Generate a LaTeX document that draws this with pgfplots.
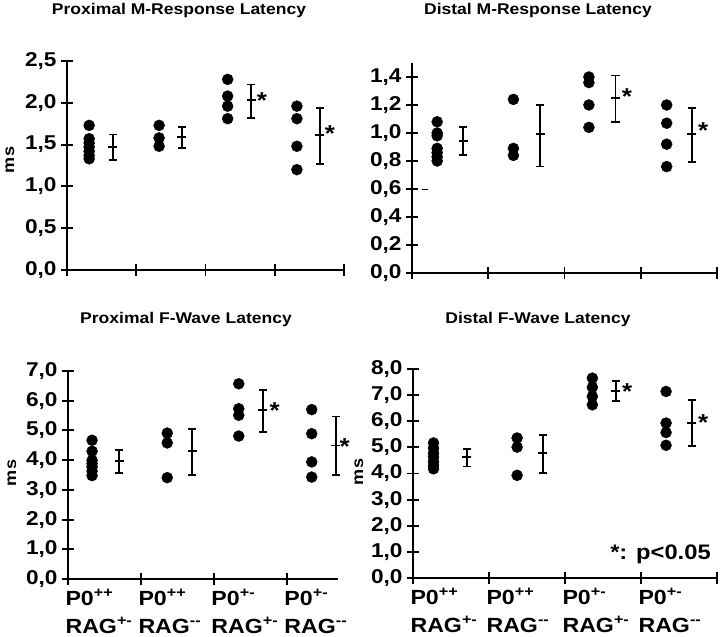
\documentclass[border=0pt]{standalone}
\usepackage{fontspec}
\setmainfont{Liberation Sans}[FakeStretch=1.13]
\usepackage{pgfplots}
\pgfplotsset{compat=1.18}
\pgfplotsset{
  panel/.style={
    scale only axis,
    axis lines*=left,
    axis line style={line width=1.9pt,-},
    xmin=0, ymin=0,
    tick align=center,
    major tick length=12pt,
    tick style={line width=1.9pt, black},
    clip=false,
    anchor=south west,
    /pgf/number format/fixed,
    /pgf/number format/fixed zerofill,
    /pgf/number format/precision=1,
    /pgf/number format/use comma,
    /pgf/number format/assume math mode=true,
    yticklabel style={font=\fontsize{20}{22}\selectfont\bfseries, xshift=-1pt},
    xticklabel style={font=\fontsize{20.5}{28}\selectfont\bfseries, anchor=north west, align=left, xshift=-6pt, yshift=-1pt},
  },
  dots/.style={only marks, mark=*, mark size=5.5pt, black},
  ebar/.style={black, only marks, mark=-, mark size=4.5pt, mark options={line width=1.8pt},
    error bars/.cd, y dir=both, y explicit, error mark=|,
    error mark options={mark size=4.2pt, line width=1.8pt, black},
    error bar style={line width=1.8pt, black}},
}
\begin{document}
\begin{tikzpicture}[x=1pt,y=1pt]
\path[use as bounding box] (0,0) rectangle (720,637);
\tikzset{title/.style={font=\fontsize{15.5}{18}\selectfont\bfseries},
         ms/.style={font=\fontsize{16}{18}\selectfont\bfseries, rotate=90},
         star/.style={font=\fontsize{23}{24}\selectfont\bfseries, anchor=west, inner sep=0pt}}
\node[title] at (179,626) {Proximal M-Response Latency};
\node[title] at (538,626) {Distal M-Response Latency};
\node[title] at (186,318) {Proximal F-Wave Latency};
\node[title] at (538,318) {Distal F-Wave Latency};
\node[ms] at (10,477) {ms};
\node[ms] at (12,164) {ms};
\node[ms] at (359,165) {ms};

% Top-left: Proximal M-Response
\begin{axis}[panel, at={(67pt,367pt)}, width=277pt, height=209pt,
  xmax=4, ymax=2.5, xtick={0,1,2,3,4}, xticklabels={}, ytick={0,0.5,1,1.5,2,2.5}]
\addplot[dots] table {
x y
0.32 1.73
0.32 1.57
0.32 1.52
0.32 1.47
0.32 1.42
0.32 1.37
0.32 1.33
1.33 1.73
1.33 1.58
1.33 1.48
2.32 2.28
2.32 2.08
2.32 1.96
2.32 1.81
3.32 1.96
3.32 1.81
3.32 1.48
3.32 1.20
};
\addplot[ebar] table[x=x, y=y, y error plus=ep, y error minus=em] {
x y ep em
0.66 1.47 0.15 0.15
1.66 1.59 0.12 0.13
2.66 2.03 0.19 0.21
3.65 1.61 0.33 0.34
};
\node[star] at (axis cs:2.74,2.03) {*};
\node[star] at (axis cs:3.72,1.63) {*};
\end{axis}

% Top-right: Distal M-Response
\begin{axis}[panel, at={(412pt,364pt)}, width=305pt, height=210pt,
  xmax=4, ymax=1.5, xtick={0,1,2,3,4}, xticklabels={}, ytick={0,0.2,0.4,0.6,0.8,1.0,1.2,1.4}]
\addplot[dots] table {
x y
0.33 1.08
0.33 1.00
0.33 0.98
0.33 0.89
0.33 0.86
0.33 0.83
0.33 0.80
1.33 1.24
1.33 0.89
1.33 0.84
2.32 1.40
2.32 1.36
2.32 1.20
2.32 1.04
3.34 1.20
3.34 1.07
3.34 0.92
3.34 0.76
};
\addplot[ebar] table[x=x, y=y, y error plus=ep, y error minus=em] {
x y ep em
0.67 0.94 0.10 0.10
1.68 0.99 0.21 0.23
2.67 1.25 0.16 0.17
3.67 0.99 0.19 0.20
};
\addplot[black, line width=0.6pt] coordinates {(0.13,0.6) (0.21,0.6)};
\node[star] at (axis cs:2.75,1.26) {*};
\node[star] at (axis cs:3.75,1.02) {*};
\end{axis}

% Bottom-left: Proximal F-Wave
\begin{axis}[panel, at={(68pt,58pt)}, width=270pt, height=208pt,
  xmax=3.7, ymax=7, xtick={0,1,2,3}, ytick={0,1,...,7},
  xticklabels={{P0\textsuperscript{++}\\RAG\textsuperscript{+-}},
               {P0\textsuperscript{++}\\RAG\textsuperscript{-{}-}},
               {P0\textsuperscript{+-}\\RAG\textsuperscript{+-}},
               {P0\textsuperscript{+-}\\RAG\textsuperscript{-{}-}}}]
\addplot[dots] table {
x y
0.33 4.67
0.33 4.30
0.33 3.99
0.33 3.88
0.33 3.77
0.33 3.63
0.33 3.48
1.36 4.91
1.36 4.58
1.36 3.41
2.34 6.57
2.34 5.73
2.34 5.51
2.34 4.81
3.34 5.70
3.34 4.89
3.34 3.94
3.34 3.43
};
\addplot[ebar] table[x=x, y=y, y error plus=ep, y error minus=em] {
x y ep em
0.70 3.98 0.37 0.41
1.70 4.31 0.75 0.80
2.67 5.68 0.69 0.74
3.67 4.49 0.98 1.00
};
\node[star] at (axis cs:2.76,5.68) {*};
\node[star] at (axis cs:3.72,4.45) {*};
\end{axis}

% Bottom-right: Distal F-Wave
\begin{axis}[panel, at={(413pt,59pt)}, width=304pt, height=209pt,
  xmax=4, ymax=8, xtick={0,1,2,3,4}, ytick={0,1,...,8},
  xticklabels={{P0\textsuperscript{++}\\RAG\textsuperscript{+-}},
               {P0\textsuperscript{++}\\RAG\textsuperscript{-{}-}},
               {P0\textsuperscript{+-}\\RAG\textsuperscript{+-}},
               {P0\textsuperscript{+-}\\RAG\textsuperscript{-{}-}},{}}]
\addplot[dots] table {
x y
0.27 5.17
0.27 4.97
0.27 4.78
0.27 4.63
0.27 4.46
0.27 4.31
0.27 4.18
1.37 5.36
1.37 5.01
1.37 3.93
2.36 7.65
2.36 7.30
2.36 6.95
2.36 6.63
3.33 7.14
3.33 5.93
3.33 5.57
3.33 5.08
};
\addplot[ebar] table[x=x, y=y, y error plus=ep, y error minus=em] {
x y ep em
0.71 4.62 0.32 0.35
1.71 4.78 0.70 0.76
2.67 7.17 0.38 0.41
3.67 5.93 0.87 0.87
};
\node[star] at (axis cs:2.75,7.15) {*};
\node[star] at (axis cs:3.75,5.95) {*};
\node[font=\fontsize{21}{24}\selectfont\bfseries, anchor=east, inner sep=0pt] at (axis cs:3.92,0.9) {*: p<0.05};
\end{axis}
\end{tikzpicture}
\end{document}
